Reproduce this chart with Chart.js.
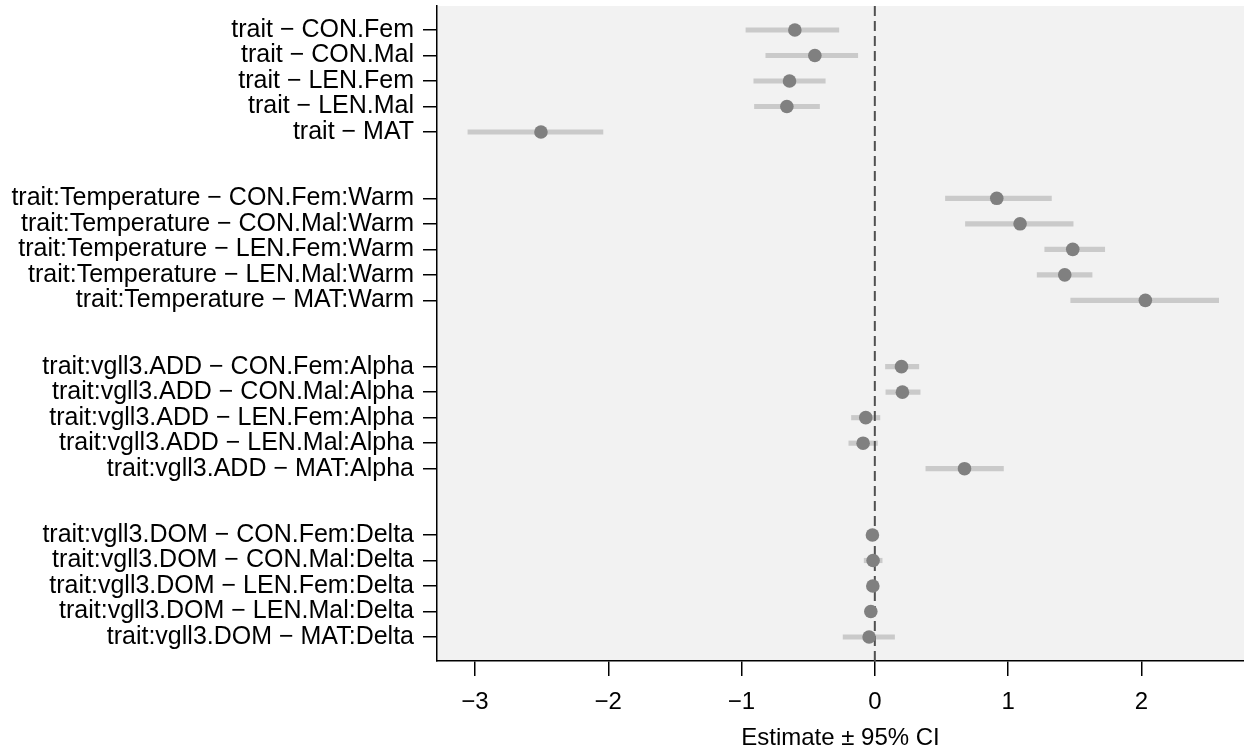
<!DOCTYPE html>
<html>
<head>
<meta charset="utf-8">
<script src="https://cdn.jsdelivr.net/npm/chart.js@4"></script>
<style>
  html, body { margin: 0; padding: 0; background: #ffffff; }
  #wrap { width: 1244px; height: 750px; }
</style>
</head>
<body>
<div id="wrap"><canvas id="coefChart"></canvas></div>
<script>
// Row labels, top to bottom (4 groups of 5)
const labels = [
  "trait \u2212 CON.Fem",
  "trait \u2212 CON.Mal",
  "trait \u2212 LEN.Fem",
  "trait \u2212 LEN.Mal",
  "trait \u2212 MAT",
  "trait:Temperature \u2212 CON.Fem:Warm",
  "trait:Temperature \u2212 CON.Mal:Warm",
  "trait:Temperature \u2212 LEN.Fem:Warm",
  "trait:Temperature \u2212 LEN.Mal:Warm",
  "trait:Temperature \u2212 MAT:Warm",
  "trait:vgll3.ADD \u2212 CON.Fem:Alpha",
  "trait:vgll3.ADD \u2212 CON.Mal:Alpha",
  "trait:vgll3.ADD \u2212 LEN.Fem:Alpha",
  "trait:vgll3.ADD \u2212 LEN.Mal:Alpha",
  "trait:vgll3.ADD \u2212 MAT:Alpha",
  "trait:vgll3.DOM \u2212 CON.Fem:Delta",
  "trait:vgll3.DOM \u2212 CON.Mal:Delta",
  "trait:vgll3.DOM \u2212 LEN.Fem:Delta",
  "trait:vgll3.DOM \u2212 LEN.Mal:Delta",
  "trait:vgll3.DOM \u2212 MAT:Delta"
];

const estimate = [
  -0.60, -0.45, -0.64, -0.66, -2.505,
  0.915, 1.09, 1.485, 1.425, 2.03,
  0.20, 0.207, -0.068, -0.088, 0.673,
  -0.018, -0.013, -0.015, -0.03, -0.043
];

const ciLow = [
  -0.967, -0.818, -0.908, -0.903, -3.053,
  0.53, 0.68, 1.275, 1.218, 1.47,
  0.08, 0.083, -0.175, -0.195, 0.383,
  -0.045, -0.08, -0.045, -0.06, -0.238
];

const ciHigh = [
  -0.27, -0.128, -0.372, -0.415, -2.04,
  1.325, 1.488, 1.725, 1.63, 2.58,
  0.33, 0.34, 0.038, 0.02, 0.965,
  0.01, 0.055, 0.015, 0.0, 0.148
];

const xTicks = [-3, -2, -1, 0, 1, 2];

// layout: rows inside a group are 1 unit apart, groups 6.6 units apart
const GROUP_SIZE = 5;
const GROUP_STEP = 6.6;
const rowPos = labels.map((_, i) => Math.floor(i / GROUP_SIZE) * GROUP_STEP + (i % GROUP_SIZE));
const Y_MIN = -0.94;
const Y_MAX = rowPos[rowPos.length - 1] + 0.94;

const FONT = "'Liberation Sans', Arial, Helvetica, sans-serif";

function fmtTick(v) {
  return v < 0 ? "\u2212" + Math.abs(v) : String(v);
}

const panelBg = {
  id: "panelBg",
  beforeDraw(chart) {
    const a = chart.chartArea;
    const c = chart.ctx;
    c.save();
    c.fillStyle = "#f2f2f2";
    c.fillRect(a.left, a.top, a.right - a.left, a.bottom - a.top);
    c.restore();
  }
};

const ctx = document.getElementById("coefChart").getContext("2d");

new Chart(ctx, {
  type: "scatter",
  data: {
    datasets: [
      {
        type: "bar",
        indexAxis: "y",
        label: "95% CI",
        data: rowPos.map((y, i) => ({ x: [ciLow[i], ciHigh[i]], y: y })),
        backgroundColor: "#cacaca",
        borderWidth: 0,
        barThickness: 4.5,
        grouped: false,
        order: 3
      },
      {
        type: "line",
        label: "zero",
        data: [{ x: 0, y: Y_MIN }, { x: 0, y: Y_MAX }],
        borderColor: "#505050",
        borderWidth: 2,
        borderDash: [10, 5],
        pointRadius: 0,
        fill: false,
        order: 2
      },
      {
        type: "scatter",
        label: "Estimate",
        data: rowPos.map((y, i) => ({ x: estimate[i], y: y })),
        backgroundColor: "#808080",
        borderWidth: 0,
        pointRadius: 6.8,
        order: 1
      }
    ]
  },
  options: {
    responsive: true,
    maintainAspectRatio: false,
    animation: false,
    layout: { autoPadding: false, padding: { top: 6, right: 0, bottom: 0, left: 0 } },
    plugins: {
      legend: { display: false },
      tooltip: { enabled: false }
    },
    scales: {
      x: {
        type: "linear",
        min: -3.285,
        max: 2.77,
        offset: false,
        afterBuildTicks: (scale) => {
          scale.ticks = xTicks.map(v => ({ value: v }));
        },
        afterFit: (scale) => {
          scale.height = 89;
          scale.paddingLeft = 0;
          scale.paddingRight = 0;
        },
        ticks: {
          color: "#000000",
          padding: 12,
          maxRotation: 0,
          font: { family: FONT, size: 24 },
          callback: (v) => fmtTick(v)
        },
        grid: {
          offset: false,
          drawOnChartArea: false,
          drawTicks: true,
          tickLength: 15,
          color: "#000000",
          lineWidth: 1.5
        },
        border: { display: true, color: "#000000", width: 1.5 },
        title: {
          display: true,
          text: "Estimate \u00b1 95% CI",
          color: "#000000",
          font: { family: FONT, size: 24, lineHeight: 1 },
          padding: { top: 0, bottom: 0 }
        }
      },
      y: {
        type: "linear",
        reverse: true,
        min: Y_MIN,
        max: Y_MAX,
        offset: false,
        afterBuildTicks: (scale) => {
          scale.ticks = rowPos.map(v => ({ value: v }));
        },
        afterFit: (scale) => {
          scale.width = 437;
          scale.paddingTop = 0;
          scale.paddingBottom = 0;
        },
        ticks: {
          color: "#000000",
          padding: 9,
          autoSkip: false,
          font: { family: FONT, size: 25 },
          callback: (v) => {
            const i = rowPos.indexOf(v);
            return i >= 0 ? labels[i] : "";
          }
        },
        grid: {
          offset: false,
          drawOnChartArea: false,
          drawTicks: true,
          tickLength: 14,
          color: "#000000",
          lineWidth: 1.5
        },
        border: { display: true, color: "#000000", width: 1.5 }
      }
    }
  },
  plugins: [panelBg]
});
</script>
</body>
</html>
